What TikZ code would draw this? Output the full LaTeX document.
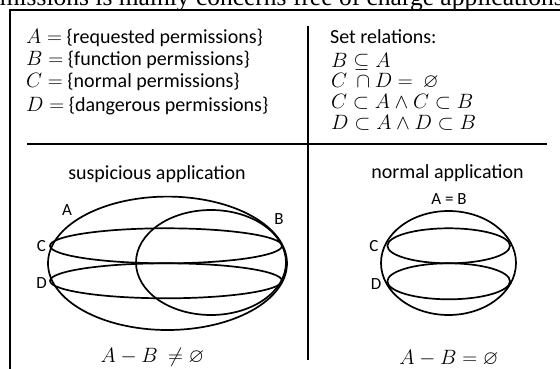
\documentclass[tikz,border=0pt]{standalone}
\usepackage{amssymb}
\usepackage{fontspec}
\setmainfont{Carlito}
\newfontfamily\capfont{Liberation Serif}
\begin{document}
\begin{tikzpicture}[x=1pt,y=-1pt,
  frame/.style={line width=2pt,black},
  setline/.style={line width=1.7pt,black},
  txt/.style={font=\fontsize{20}{22}\selectfont,anchor=west,inner sep=0pt,text height=12pt,text depth=4pt},
  lbl/.style={font=\fontsize{17}{19}\selectfont,inner sep=0pt},
  ttl/.style={font=\fontsize{20}{22}\selectfont,inner sep=0pt}]
\useasboundingbox (0,0) rectangle (560,369);
\clip (0,0) rectangle (560,369);
% caption fragment cut off at the top
\node[font=\capfont\fontsize{25.5}{26}\selectfont,anchor=base west,inner sep=0pt] (cap) at (-33,5.5) {permissions is mainly concerns free of charge applications};
% frame and dividers
\coordinate (fbl) at (10,380);
\coordinate (ftl) at (10,10);
\coordinate (ftr) at (575,10);
\draw[frame] (fbl) -- (ftl) -- (ftr);
\coordinate (vt) at (307.5,26);
\coordinate (vb) at (307.5,360);
\coordinate (hl) at (27,144);
\coordinate (hr) at (546.5,144);
\draw[frame] (vt) -- (vb);
\draw[frame] (hl) -- (hr);
% definitions
\node[txt] (dA) at (26,40) {$A =$ \{requested permissions\}};
\node[txt] (dB) at (26,62) {$B =$ \{function permissions\}};
\node[txt] (dC) at (26,84) {$C =$ \{normal permissions\}};
\node[txt] (dD) at (26,107) {$D =$ \{dangerous permissions\}};
% relations
\node[txt] (r0) at (330,40) {Set relations:};
\node[txt] (r1) at (331,64) {$B \subseteq A$};
\node[txt] (r2) at (331,84) {$C\ \cap D =\ \varnothing$};
\node[txt] (r3) at (331,105) {$C \subset A \wedge C \subset B$};
\node[txt] (r4) at (331,125) {$D \subset A \wedge D \subset B$};
% suspicious application
\node[ttl] (t1) at (157,174) {suspicious application};
\draw[setline] (167.5,263.3) ellipse [x radius=119.5pt, y radius=66.7pt];
\draw[setline] (166,245.8) ellipse [x radius=116pt, y radius=17.5pt];
\draw[setline] (166,280.8) ellipse [x radius=116pt, y radius=17.5pt];
\draw[setline] (211,262.5) ellipse [x radius=75pt, y radius=52.5pt];
\node[lbl] (lA) at (67,210) {A};
\node[lbl] (lB) at (279,219) {B};
\node[lbl] (lC) at (41.5,246.5) {C};
\node[lbl] (lD) at (41.5,283) {D};
\node[txt,anchor=center] (e1) at (152.5,358) {$A - B\ \neq \varnothing$};
% normal application
\node[ttl] (t2) at (447.5,173) {normal application};
\node[lbl] (lAB) at (449,199) {A = B};
\draw[setline] (448.5,263) ellipse [x radius=67.5pt, y radius=52pt];
\draw[setline] (448.7,245.8) ellipse [x radius=61.3pt, y radius=17.5pt];
\draw[setline] (448.7,281.3) ellipse [x radius=61.3pt, y radius=18pt];
\node[lbl] (lC2) at (374,246.5) {C};
\node[lbl] (lD2) at (376,284) {D};
\node[txt,anchor=center] (e2) at (449,360) {$A - B = \varnothing$};
\end{tikzpicture}
\end{document}
